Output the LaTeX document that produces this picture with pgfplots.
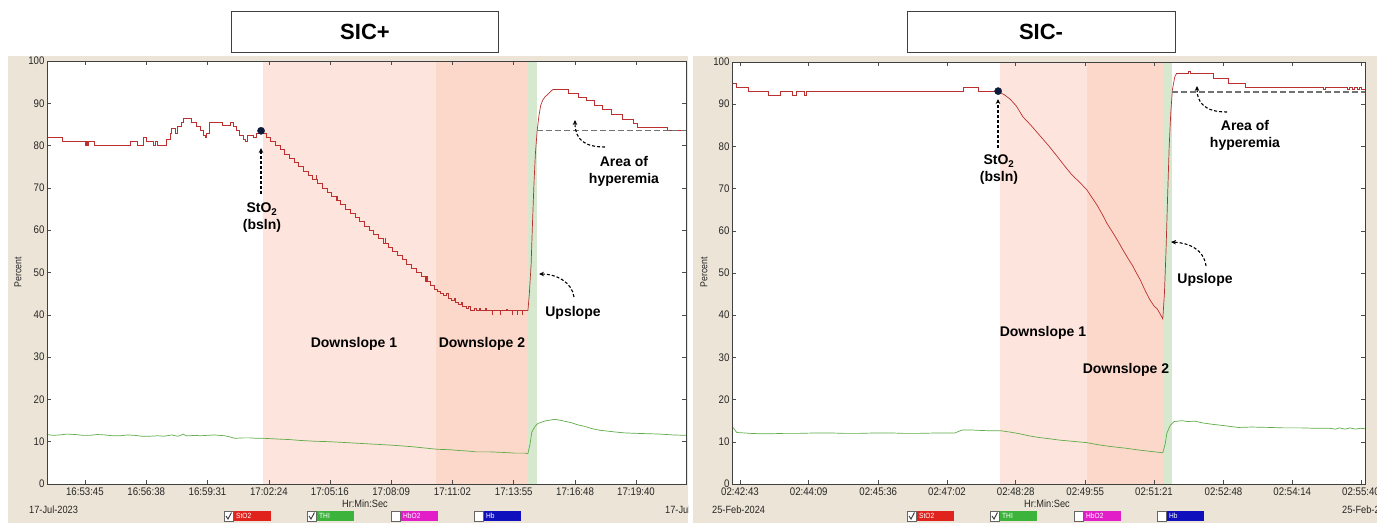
\documentclass[border=0pt]{standalone}
\usepackage{pgfplots}
\pgfplotsset{compat=1.18}
\usetikzlibrary{arrows.meta}
\usepackage{fontspec}
\setmainfont{Liberation Sans}
\newfontfamily\tickfont[FakeStretch=0.88]{Liberation Sans}

\definecolor{beige}{RGB}{236,228,214}
\definecolor{pinkA}{RGB}{253,229,221}
\definecolor{pinkB}{RGB}{252,216,202}
\definecolor{greenband}{RGB}{214,233,206}
\definecolor{redline}{RGB}{188,48,48}
\definecolor{greenline}{RGB}{95,172,72}
\definecolor{dotc}{RGB}{14,28,60}
\definecolor{legred}{RGB}{225,35,30}
\definecolor{leggreen}{RGB}{60,180,60}
\definecolor{legmag}{RGB}{225,30,200}
\definecolor{legblue}{RGB}{15,15,190}

\pgfplotsset{panel/.style={scale only axis, anchor=south west, ymin=0, ymax=100,
  ytick={0,10,...,100}, tick align=inside, major tick length=4pt, axis on top,
  axis line style={black!75, line width=0.8pt}, tick style={black!70, line width=0.6pt},
  ticklabel style={font=\tickfont\fontsize{11}{13}\selectfont, text=black!85},
  yticklabel style={xshift=1pt},
  /pgf/number format/assume math mode=true, axis background/.style={fill=white}}}

\newcommand{\legbox}[4]{%
  \fill[#2] (#1+9,511) rectangle (#1+47,521);
  \filldraw[fill=white, draw=black!60, line width=0.6pt] (#1,511) rectangle (#1+9,521);
  \ifnum#4=1 \draw[black!80, line width=0.9pt] (#1+2,516) -- (#1+4,519) -- (#1+7.5,512.5);\fi
  \node[anchor=west, inner sep=0pt, text=white, font=\tickfont\fontsize{7.5}{8}\selectfont] at (#1+12,516) {#3};}

\begin{document}
\begin{tikzpicture}[x=1pt,y=1pt]
\useasboundingbox (0,0) rectangle (1377,523);
\clip (0,0) rectangle (1377,523);
\fill[white] (0,0) rectangle (1377,523);
\fill[beige] (8,0) rectangle (688,467);
\fill[beige] (693,0) rectangle (1377,467);

% ---------------- LEFT PANEL: SIC+ ----------------
\begin{axis}[panel, at={(47pt,39pt)}, width=639pt, height=423pt, xmin=-107, xmax=1696,
  xtick={0,173,346,519,691,864,1037,1210,1383,1555},
  xticklabels={16:53:45,16:56:38,16:59:31,17:02:24,17:05:16,17:08:09,17:11:02,17:13:55,17:16:48,17:19:40}]
\addplot[draw=none, fill=pinkA] coordinates {(502,100) (990,100)} \closedcycle;
\addplot[draw=none, fill=pinkB] coordinates {(990,100) (1247,100)} \closedcycle;
\addplot[draw=none, fill=greenband] coordinates {(1247,100) (1276,100)} \closedcycle;
% THI
\addplot[greenline, line width=0.7pt] coordinates {
(-107,11.7) (-90,11.5) (-71,11.6) (-50,11.8) (-28,11.7) (-5,11.5) (14,11.5) (35,11.7) (56,11.6) (78,11.4) (99,11.4)
(120,11.6) (141,11.5) (160,11.3) (183,11.3) (205,11.4) (223,11.3) (246,11.6) (260,11.3) (268,11.4) (277,11.8)
(285,11.4) (296,11.4) (310,11.5) (325,11.4) (345,11.5) (364,11.6) (380,11.5) (395,11.4) (410,11.1) (423,10.8)
(445,10.9) (466,10.9) (485,10.8) (505,10.8) (528,10.7) (550,10.6) (578,10.5) (607,10.3) (650,10.1) (691,10.0)
(735,9.8) (776,9.6) (820,9.4) (861,9.2) (895,9.0) (926,8.8) (960,8.5) (996,8.2) (1030,8.1) (1058,7.9)
(1080,7.8) (1103,7.6) (1140,7.6) (1171,7.5) (1195,7.4) (1213,7.3) (1240,7.3) (1250,7.2) (1256,9.5) (1261,12.3)
(1270,13.6) (1278,14.3) (1288,14.6) (1298,14.9) (1312,15.1) (1326,15.3) (1345,15.0) (1372,14.5) (1390,14.0)
(1411,13.6) (1430,13.1) (1453,12.7) (1475,12.5) (1496,12.3) (1520,12.1) (1546,12.0) (1585,11.9) (1623,11.8) (1660,11.6) (1696,11.5)};
% StO2 baseline + downslopes (step)
\addplot[redline, line width=0.7pt, const plot] coordinates {
(-107,82) (-65,81) (0,80) (4,81) (7,80) (10,81) (28,80) (127,81) (147,80) (164,82) (172,81) (192,80) (198,81)
(203,80) (231,81.5) (240,83) (243,84) (254,83) (260,84.5) (271,85.5) (279,86.5) (299,85.5) (313,84.5)
(325,83.5) (333,82.5) (339,82) (344,83) (350,85.5) (387,84.8) (409,85.5) (418,84.5) (426,83.5) (435,82.5)
(446,81.5) (452,81) (457,82.5) (474,82) (485,83) (497,83.5)
(500,83) (511,82) (524,81) (537,80) (551,79) (563,78) (577,77) (590,76) (603,75) (616,74) (630,73)
(643,72) (652,73) (654,72) (656,71) (669,70) (683,69) (696,68) (709,67) (711,68) (713,67) (722,66) (736,65)
(749,64) (762,63) (775,62) (789,61) (802,60) (815,59) (828,58) (842,57) (847,58) (849,57) (855,56) (868,55)
(881,54) (895,53) (908,52) (921,51) (934,50) (948,49) (961,48) (963,49) (965,48) (974,47) (987,46)
(995,45.5) (1003,45) (1012,44.5) (1020,45) (1026,44) (1035,43.5) (1042,44) (1046,43) (1055,42.5) (1062,43)
(1066,42) (1075,41.5) (1082,42) (1088,41) (1098,41.5) (1104,41) (1112,41.6) (1116,41) (1130,41.5) (1134,41)
(1149,40) (1151,41) (1171,40) (1173,41) (1190,41.3) (1192,41) (1205,40) (1207,41) (1219,40) (1221,41)
(1233,40) (1235,41) (1250,41)};
% upslope
\addplot[redline, line width=0.7pt] coordinates {
(1250,41) (1254,45) (1259,52) (1263,62) (1267,71) (1271,78) (1276,83.5) (1281,87) (1286,89.5) (1292,90.8)
(1298,91.5) (1307,92.2) (1314,92.8) (1321,93.3)};
% hyperemia steps
\addplot[redline, line width=0.7pt, const plot] coordinates {
(1321,93.3) (1363,92.3) (1391,91.4) (1414,90.6) (1436,89.6) (1459,88.6) (1484,87.4) (1515,86.2)
(1547,85.2) (1560,84.4) (1642,83.5) (1696,83.5)};
% baseline reference
\addplot[black!55, line width=1.3pt, dash pattern=on 6pt off 3pt] coordinates {(1276,83.5) (1696,83.5)};
\addplot[only marks, mark=*, mark size=3.6pt, dotc] coordinates {(497,83.5)};
\end{axis}

% ---------------- RIGHT PANEL: SIC- ----------------
\begin{axis}[panel, at={(732pt,39pt)}, width=633pt, height=422pt, xmin=-10, xmax=782,
  xtick={0,86,173,259,345,432,518,605,691,777},
  xticklabels={02:42:43,02:44:09,02:45:36,02:47:02,02:48:28,02:49:55,02:51:21,02:52:48,02:54:14,02:55:40}]
\addplot[draw=none, fill=pinkA] coordinates {(325,100) (434,100)} \closedcycle;
\addplot[draw=none, fill=pinkB] coordinates {(434,100) (529,100)} \closedcycle;
\addplot[draw=none, fill=greenband] coordinates {(529,100) (541,100)} \closedcycle;
% THI
\addplot[greenline, line width=0.7pt] coordinates {
(-10,13.7) (-4,12.2) (5,12.1) (13,12.0) (25,11.9) (38,11.9) (55,12.0) (75,12.0) (95,12.1) (113,12.1)
(130,12.0) (150,12.0) (170,12.1) (188,12.1) (205,12.0) (225,12.0) (248,12.1) (269,12.1) (278,12.8)
(290,12.8) (300,12.7) (315,12.6) (327,12.6) (338,12.3) (350,11.9) (362,11.4) (375,11.0) (388,10.7)
(400,10.4) (417,10.1) (434,9.8) (448,9.3) (463,8.9) (482,8.5) (501,8.0) (515,7.7) (529,7.4)
(532,9.5) (534,12.0) (538,13.8) (543,14.8) (553,15.0) (560,14.8) (569,14.9) (578,14.5) (589,14.2)
(598,14.0) (607,13.8) (615,13.6) (624,13.4) (640,13.5) (663,13.4) (680,13.3) (702,13.3) (720,13.2)
(738,13.2) (745,13.0) (750,13.3) (757,13.0) (763,13.3) (770,13.0) (776,13.2) (782,13.1)};
% StO2 baseline (step)
\addplot[redline, line width=0.7pt, const plot] coordinates {
(-10,95) (-4,94) (10,93) (35,92) (50,93) (65,92) (70,93) (81,92) (83.5,93) (85.5,93) (279,94) (298,93) (323,93)};
% downslope + upslope
\addplot[redline, line width=0.7pt] coordinates {
(323,93) (331,92.2) (338,91.2) (346,89.5) (354,87.0) (364,85.0) (375,82.6) (386,80.2) (397,77.6)
(406,75.4) (415,73.3) (425,71.5) (434,69.7) (440,68.0) (447,66.0) (453,64.0) (459,61.8) (464,60.3)
(469,58.8) (474,57.2) (479,55.5) (485,53.6) (491,51.8) (496,50.0) (501,48.3) (507,45.8) (513,43.6)
(518,42.2) (522,41.5) (526,40.2) (529,39.1) (531,45) (533,55) (535,68) (537,80) (539,88) (541,93.4)
(544,96.5) (546,97.2)};
\addplot[redline, line width=0.7pt, const plot] coordinates {
(546,97.2) (561,97.8) (564,97.2) (592,96.2) (611,95) (632,94.1) (730,93.6) (732,94.1) (755,94)
(760,93.6) (763,94) (766,93.6) (769,94) (772,93.6) (775,94) (778,93.6) (782,93.8)};
\addplot[black!55, line width=1.3pt, dash pattern=on 6pt off 3pt] coordinates {(541,92.9) (782,92.9)};
\addplot[only marks, mark=*, mark size=3.6pt, dotc] coordinates {(323,93.1)};
\end{axis}

% ---------------- annotations (pixel coordinates) ----------------
\begin{scope}[shift={(0pt,523pt)}, y=-1pt,
  ann/.style={font=\bfseries\fontsize{14}{17}\selectfont, align=center, inner sep=0pt},
  darr/.style={black, line width=1.1pt, dash pattern=on 3pt off 2pt, -{Stealth[length=5pt,width=4.5pt]}},
  small/.style={font=\tickfont\fontsize{10.5}{12}\selectfont, text=black!85, inner sep=0pt}]
% title boxes
\filldraw[fill=white, draw=black!75, line width=0.9pt] (231,11) rectangle (498,52);
\node[font=\bfseries\fontsize{22}{24}\selectfont] at (365,32) {SIC+};
\filldraw[fill=white, draw=black!75, line width=0.9pt] (907,11) rectangle (1175,52);
\node[font=\bfseries\fontsize{22}{24}\selectfont] at (1041,32) {SIC-};

% y labels
\node[small, rotate=90, font=\tickfont\fontsize{10}{12}\selectfont] at (18,272) {Percent};
\node[small, rotate=90, font=\tickfont\fontsize{10}{12}\selectfont] at (704,272) {Percent};

% bottom texts
\node[small] at (365,504) {Hr:Min:Sec};
\node[small] at (1047,504) {Hr:Min:Sec};
\begin{scope}
\clip (8,56) rectangle (688,523);
\node[small, anchor=west] at (29,510) {17-Jul-2023};
\node[small, anchor=west] at (665,510) {17-Jul-2023};
\end{scope}
\node[small, anchor=west] at (712,510) {25-Feb-2024};
\node[small, anchor=west] at (1342,510) {25-Feb-2024};

% legend boxes
\legbox{224}{legred}{StO2}{1}
\legbox{307}{leggreen}{THI}{1}
\legbox{391}{legmag}{HbO2}{0}
\legbox{474}{legblue}{Hb}{0}
\legbox{907}{legred}{StO2}{1}
\legbox{990}{leggreen}{THI}{1}
\legbox{1074}{legmag}{HbO2}{0}
\legbox{1157}{legblue}{Hb}{0}

% left annotations
\draw[darr] (261,194) -- (261,148);
\node[ann] at (262,218) {StO\textsubscript{2}\\(bsln)};
\node[ann] at (354,344) {Downslope 1};
\node[ann] at (482,344) {Downslope 2};
\node[ann] at (573,313) {Upslope};
\draw[darr] (574,297) .. controls (572,282) and (556,274) .. (539,274);
\node[ann] at (624,171) {Area of\\hyperemia};
\draw[darr] (605,147) .. controls (585,147) and (575,140) .. (575,120);

% right annotations
\draw[darr] (998,148) -- (998,99);
\node[ann] at (999,170) {StO\textsubscript{2}\\(bsln)};
\node[ann] at (1043,333) {Downslope 1};
\node[ann] at (1126,370) {Downslope 2};
\node[ann] at (1205,280) {Upslope};
\draw[darr] (1206,266) .. controls (1204,250) and (1190,243) .. (1171,242);
\node[ann] at (1245,135) {Area of\\hyperemia};
\draw[darr] (1227,112) .. controls (1205,112) and (1197,103) .. (1197,86);
\end{scope}
\end{tikzpicture}
\end{document}
